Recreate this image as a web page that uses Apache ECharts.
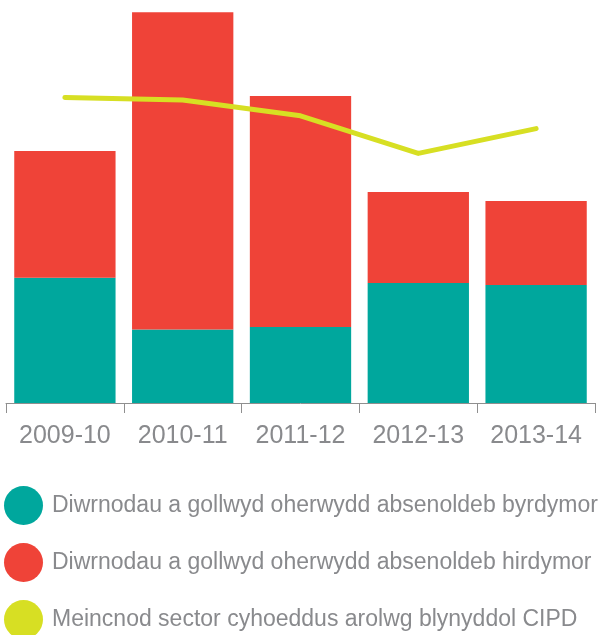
<!DOCTYPE html>
<html>
<head>
<meta charset="utf-8">
<script src="https://cdn.jsdelivr.net/npm/echarts@6/dist/echarts.min.js"></script>
<style>
  html, body { margin: 0; padding: 0; background: #fff; }
  #chart { width: 600px; height: 635px; }
</style>
</head>
<body>
<div id="chart"></div>
<script>
const categories = ['2009-10', '2010-11', '2011-12', '2012-13', '2013-14'];
const shortTerm = [3.13, 1.84, 1.9, 3.0, 2.95];
const longTerm = [3.17, 7.93, 5.775, 2.275, 2.1];
const benchmark = [7.64, 7.575, 7.18, 6.24, 6.86];

const seriesNames = [
  'Diwrnodau a gollwyd oherwydd absenoldeb byrdymor',
  'Diwrnodau a gollwyd oherwydd absenoldeb hirdymor',
  'Meincnod sector cyhoeddus arolwg blynyddol CIPD'
];

const teal = '#00a79d';
const red = '#ef4338';
const lime = '#d7df23';
const grey = '#898a8d';
const font = '"Liberation Sans", Arial, sans-serif';

const chart = echarts.init(document.getElementById('chart'));

const option = {
  animation: false,
  textStyle: { fontFamily: font },
  grid: { left: 6, right: 5, top: 3, bottom: 232 },
  legend: {
    orient: 'vertical',
    left: 4,
    top: 486,
    padding: 0,
    height: 200,
    icon: 'circle',
    itemWidth: 39,
    itemHeight: 39,
    itemGap: 18,
    selectedMode: false,
    textStyle: { fontSize: 23, color: grey, fontFamily: font, padding: [0, 0, 0, 4] },
    data: seriesNames
  },
  xAxis: {
    type: 'category',
    data: categories,
    axisLine: { show: true, lineStyle: { color: '#8f8f8f', width: 1 } },
    axisTick: { show: true, interval: 0, length: 10, lineStyle: { color: '#8f8f8f', width: 1 } },
    axisLabel: { interval: 0, fontSize: 25, color: grey, margin: 21, fontFamily: font }
  },
  yAxis: {
    type: 'value',
    min: 0,
    max: 10,
    show: false,
    splitLine: { show: false }
  },
  series: [
    {
      name: seriesNames[0],
      type: 'bar',
      stack: 'days',
      data: shortTerm,
      barCategoryGap: '14%',
      itemStyle: { color: teal }
    },
    {
      name: seriesNames[1],
      type: 'bar',
      stack: 'days',
      data: longTerm,
      itemStyle: { color: red }
    },
    {
      name: seriesNames[2],
      type: 'line',
      data: benchmark,
      symbol: 'none',
      z: 5,
      itemStyle: { color: lime },
      lineStyle: { color: lime, width: 5, cap: 'round', join: 'round' }
    }
  ]
};

chart.setOption(option);
</script>
</body>
</html>
